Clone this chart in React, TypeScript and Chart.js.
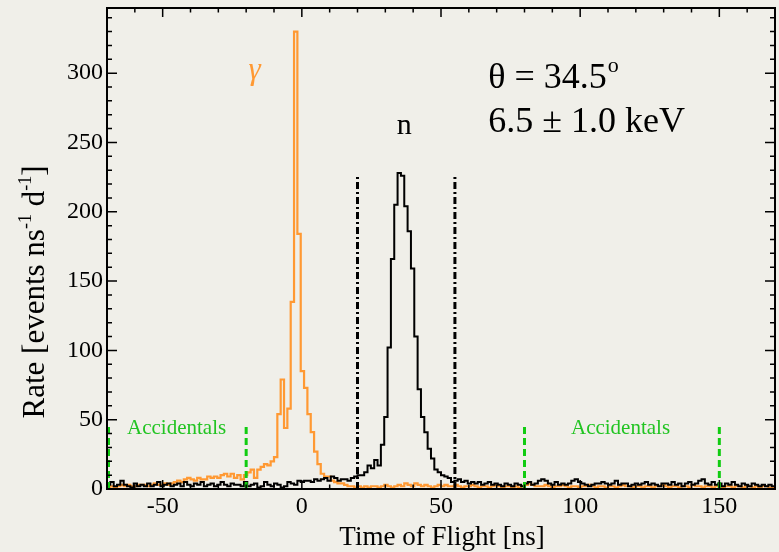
import React, { useEffect, useRef } from "react";
import { Chart, registerables } from "chart.js";

Chart.register(...registerables);

// ---- data ----
const BIN_START = -70; // ns, left edge of first bin
const BIN_WIDTH = 1.2; // ns

// neutron-like (black) histogram, counts per bin
const NEUTRON_COUNTS = [
  3, 5, 2, 3, 6, 3, 2, 1, 4, 2,
  3, 2, 4, 2, 3, 5, 2, 3, 4, 2,
  3, 4, 2, 5, 3, 2, 4, 3, 5, 2,
  3, 4, 2, 3, 5, 3, 2, 4, 3, 3,
  2, 5, 2, 3, 4, 1, 2, 5, 3, 2,
  4, 3, 1, 2, 5, 4, 3, 6, 5, 6,
  6, 5, 7, 6, 7, 8, 6, 9, 8, 6,
  7, 7, 6, 8, 9, 10, 10, 12, 17, 15,
  21, 17, 32, 52, 102, 166, 205, 228, 226, 204,
  186, 159, 110, 72, 52, 41, 29, 22, 14, 12,
  10, 9, 8, 5, 6, 7, 5, 6, 4, 5,
  4, 5, 3, 4, 5, 3, 4, 3, 2, 4,
  3, 2, 4, 3, 2, 4, 5, 3, 4, 6,
  7, 6, 4, 3, 5, 3, 4, 3, 4, 6,
  7, 5, 4, 3, 2, 3, 4, 4, 5, 4,
  3, 4, 6, 3, 4, 4, 2, 3, 4, 3,
  4, 5, 3, 4, 3, 2, 4, 4, 3, 5,
  3, 4, 2, 4, 5, 3, 4, 6, 7, 4,
  3, 5, 3, 4, 2, 4, 3, 5, 3, 2,
  4, 3, 2, 4, 3, 2, 3, 2, 3, 2,
];

// gamma (orange) histogram, counts per bin
const GAMMA_COUNTS = [
  1, 2, 1, 2, 3, 2, 3, 2, 2, 3,
  3, 3, 2, 3, 4, 3, 3, 4, 3, 4,
  5, 6, 5, 7, 8, 7, 6, 8, 7, 7,
  9, 8, 9, 8, 10, 11, 9, 11, 8, 10,
  7, 10, 12, 14, 8, 14, 16, 18, 17, 20,
  23, 54, 79, 44, 58, 135, 330, 184, 85, 73,
  54, 41, 27, 18, 11, 9, 9, 6, 5, 4,
  4, 3, 2, 2, 1, 2, 1, 2, 1, 2,
  2, 1, 2, 3, 2, 1, 2, 3, 2, 4,
  3, 2, 4, 3, 2, 3, 2, 1, 2, 3,
  2, 3, 2, 2, 3, 2, 1, 2, 2, 3,
  2, 1, 2, 2, 1, 2, 3, 2, 1, 2,
  2, 1, 2, 1, 2, 3, 4, 3, 2, 2,
  2, 3, 2, 1, 2, 2, 3, 2, 1, 2,
  2, 1, 2, 2, 3, 2, 1, 2, 2, 1,
  2, 2, 1, 2, 3, 2, 2, 1, 2, 2,
  1, 2, 2, 1, 2, 2, 3, 2, 1, 2,
  2, 1, 2, 2, 1, 3, 2, 2, 1, 2,
  2, 1, 2, 2, 1, 2, 2, 1, 2, 2,
  1, 2, 2, 1, 2, 1, 2, 2, 1, 1,
];

const X_MIN = -70;
const X_MAX = 170;
const Y_MIN = 0;
const Y_MAX = 347;
const X_TICKS = [-50, 0, 50, 100, 150];
const Y_TICKS = [0, 50, 100, 150, 200, 250, 300];
const X_MINOR_STEP = 10;
const Y_MINOR_STEP = 10;

// neutron window (dash-dot) and accidental windows (green dashed)
const NEUTRON_WINDOW = [20, 55];
const NEUTRON_WINDOW_TOP = 227;
const ACCIDENTAL_EDGES = [-70, -20, 80, 150];
const ACCIDENTAL_TOP = 45;
const ACCIDENTAL_LABEL_X = [-45, 114.5];
const ACCIDENTAL_LABEL_Y = 40;

const X_TITLE = "Time of Flight [ns]";
const Y_TITLE_PARTS = [
  { t: "Rate [events ns", sup: false },
  { t: "-1", sup: true },
  { t: " d", sup: false },
  { t: "-1", sup: true },
  { t: "]", sup: false },
];
const GAMMA_LABEL = { text: "γ", x: -17, y: 302 };
const NEUTRON_LABEL = { text: "n", x: 36.8, y: 262 };
const ANGLE_LABEL = { text: "θ = 34.5", sup: "o", x: 67, y: 289 };
const ENERGY_LABEL = { text: "6.5 ± 1.0 keV", x: 67, y: 257.5 };

// ---- styles ----
const BG = "#f0efe9";
const ORANGE = "#ff9933";
const GREEN_LINE = "#11cc11";
const GREEN_TEXT = "#22c422";
const SERIF = "'Liberation Serif', 'Times New Roman', serif";

function histPoints(counts: number[]) {
  const pts = counts.map((v, i) => ({ x: BIN_START + i * BIN_WIDTH, y: v }));
  pts.push({ x: BIN_START + counts.length * BIN_WIDTH, y: counts[counts.length - 1] });
  return pts;
}

const decorPlugin = {
  id: "decor",
  beforeDraw(chart: any) {
    const ctx = chart.ctx;
    ctx.save();
    ctx.fillStyle = BG;
    ctx.fillRect(0, 0, chart.width, chart.height);
    ctx.restore();
  },
  afterDatasetsDraw(chart: any) {
    const ctx = chart.ctx;
    const xs = chart.scales.x;
    const ys = chart.scales.y;
    const a = chart.chartArea;

    // neutron window lines (dash-dot)
    ctx.save();
    ctx.strokeStyle = "#000";
    ctx.lineWidth = 3;
    ctx.setLineDash([7, 3, 2, 3]);
    NEUTRON_WINDOW.forEach((v) => {
      const px = xs.getPixelForValue(v);
      ctx.beginPath();
      ctx.moveTo(px, ys.getPixelForValue(0));
      ctx.lineTo(px, ys.getPixelForValue(NEUTRON_WINDOW_TOP));
      ctx.stroke();
    });
    ctx.restore();

    // accidentals windows (green dashed)
    ctx.save();
    ctx.strokeStyle = GREEN_LINE;
    ctx.lineWidth = 3;
    ctx.setLineDash([7, 4]);
    ACCIDENTAL_EDGES.forEach((v) => {
      let px = xs.getPixelForValue(v);
      if (px < a.left + 1.5) px = a.left + 1.5;
      ctx.beginPath();
      ctx.moveTo(px, ys.getPixelForValue(0));
      ctx.lineTo(px, ys.getPixelForValue(ACCIDENTAL_TOP));
      ctx.stroke();
    });
    ctx.restore();

    // frame
    ctx.save();
    ctx.strokeStyle = "#000";
    ctx.lineWidth = 2;
    ctx.strokeRect(a.left, a.top, a.right - a.left, a.bottom - a.top);
    ctx.lineWidth = 1.5;
    for (let v = X_MIN; v <= X_MAX + 1e-6; v += X_MINOR_STEP) {
      const major = X_TICKS.includes(v);
      const len = major ? 9 : 4.5;
      const px = xs.getPixelForValue(v);
      ctx.beginPath();
      ctx.moveTo(px, a.top);
      ctx.lineTo(px, a.top + len);
      ctx.moveTo(px, a.bottom);
      ctx.lineTo(px, a.bottom - len);
      ctx.stroke();
    }
    for (let v = Y_MIN; v <= Y_MAX + 1e-6; v += Y_MINOR_STEP) {
      const major = Y_TICKS.includes(v);
      const len = major ? 10 : 5;
      const py = ys.getPixelForValue(v);
      ctx.beginPath();
      ctx.moveTo(a.left, py);
      ctx.lineTo(a.left + len, py);
      ctx.moveTo(a.right, py);
      ctx.lineTo(a.right - len, py);
      ctx.stroke();
    }
    ctx.restore();

    // texts
    ctx.save();
    ctx.textBaseline = "alphabetic";
    ctx.fillStyle = GREEN_TEXT;
    ctx.font = `21px ${SERIF}`;
    ctx.textAlign = "center";
    ACCIDENTAL_LABEL_X.forEach((v) => {
      ctx.fillText("Accidentals", xs.getPixelForValue(v), ys.getPixelForValue(ACCIDENTAL_LABEL_Y));
    });
    ctx.fillStyle = ORANGE;
    ctx.font = `italic 31px ${SERIF}`;
    ctx.textBaseline = "middle";
    ctx.fillText(GAMMA_LABEL.text, xs.getPixelForValue(GAMMA_LABEL.x), ys.getPixelForValue(GAMMA_LABEL.y));
    ctx.fillStyle = "#000";
    ctx.font = `30px ${SERIF}`;
    ctx.fillText(NEUTRON_LABEL.text, xs.getPixelForValue(NEUTRON_LABEL.x), ys.getPixelForValue(NEUTRON_LABEL.y));
    ctx.textAlign = "left";
    ctx.textBaseline = "alphabetic";
    ctx.font = `36px ${SERIF}`;
    const ax = xs.getPixelForValue(ANGLE_LABEL.x);
    const ay = ys.getPixelForValue(ANGLE_LABEL.y);
    ctx.fillText(ANGLE_LABEL.text, ax, ay);
    const w = ctx.measureText(ANGLE_LABEL.text).width;
    ctx.font = `22px ${SERIF}`;
    ctx.fillText(ANGLE_LABEL.sup, ax + w + 1, ay - 16);
    ctx.font = `36px ${SERIF}`;
    ctx.fillText(ENERGY_LABEL.text, xs.getPixelForValue(ENERGY_LABEL.x), ys.getPixelForValue(ENERGY_LABEL.y));

    // x title
    ctx.font = `27px ${SERIF}`;
    ctx.textAlign = "center";
    ctx.fillText(X_TITLE, (a.left + a.right) / 2 + 1, 545);

    // y title (rotated, with superscripts)
    const mainFont = `31px ${SERIF}`;
    const supFont = `18px ${SERIF}`;
    let total = 0;
    Y_TITLE_PARTS.forEach((p) => {
      ctx.font = p.sup ? supFont : mainFont;
      total += ctx.measureText(p.t).width;
    });
    ctx.translate(44, 292);
    ctx.rotate(-Math.PI / 2);
    ctx.textAlign = "left";
    let cx = -total / 2;
    Y_TITLE_PARTS.forEach((p) => {
      ctx.font = p.sup ? supFont : mainFont;
      ctx.fillText(p.t, cx, p.sup ? -13 : 0);
      cx += ctx.measureText(p.t).width;
    });
    ctx.restore();
  },
};

export default function App() {
  const ref = useRef<HTMLCanvasElement | null>(null);
  useEffect(() => {
    if (!ref.current) return;
    const chart = new Chart(ref.current, {
      type: "line",
      data: {
        datasets: [
          {
            label: "n",
            data: histPoints(NEUTRON_COUNTS),
            borderColor: "#000",
            borderWidth: 2,
            pointRadius: 0,
            stepped: "before",
            fill: false,
            order: 0,
          },
          {
            label: "gamma",
            data: histPoints(GAMMA_COUNTS),
            borderColor: ORANGE,
            borderWidth: 2.2,
            pointRadius: 0,
            stepped: "before",
            fill: false,
            order: 1,
          },
        ],
      },
      options: {
        responsive: false,
        animation: false,
        layout: { padding: { top: 8, right: 4, left: 0, bottom: 0 } },
        plugins: { legend: { display: false }, tooltip: { enabled: false }, title: { display: false } },
        scales: {
          x: {
            type: "linear",
            min: X_MIN,
            max: X_MAX,
            grid: { display: false, drawTicks: false },
            border: { display: false },
            ticks: {
              color: "#000",
              font: { family: SERIF, size: 24 },
              padding: 3,
              maxRotation: 0,
              autoSkip: false,
            },
            afterBuildTicks: (s: any) => {
              s.ticks = X_TICKS.map((v) => ({ value: v }));
            },
            afterFit: (s: any) => {
              s.height = 63;
              s.paddingLeft = 0;
              s.paddingRight = 0;
            },
          },
          y: {
            type: "linear",
            min: Y_MIN,
            max: Y_MAX,
            grid: { display: false, drawTicks: false },
            border: { display: false },
            ticks: {
              color: "#000",
              font: { family: SERIF, size: 24 },
              padding: 4,
              autoSkip: false,
            },
            afterBuildTicks: (s: any) => {
              s.ticks = Y_TICKS.map((v) => ({ value: v }));
            },
            afterFit: (s: any) => {
              s.width = 107;
              s.paddingTop = 0;
              s.paddingBottom = 0;
            },
          },
        },
      },
      plugins: [decorPlugin],
    });
    return () => chart.destroy();
  }, []);
  return (
    <div style={{ position: "fixed", left: 0, top: 0, width: 779, height: 552, background: BG }}>
      <canvas ref={ref} width={779} height={552} />
    </div>
  );
}
